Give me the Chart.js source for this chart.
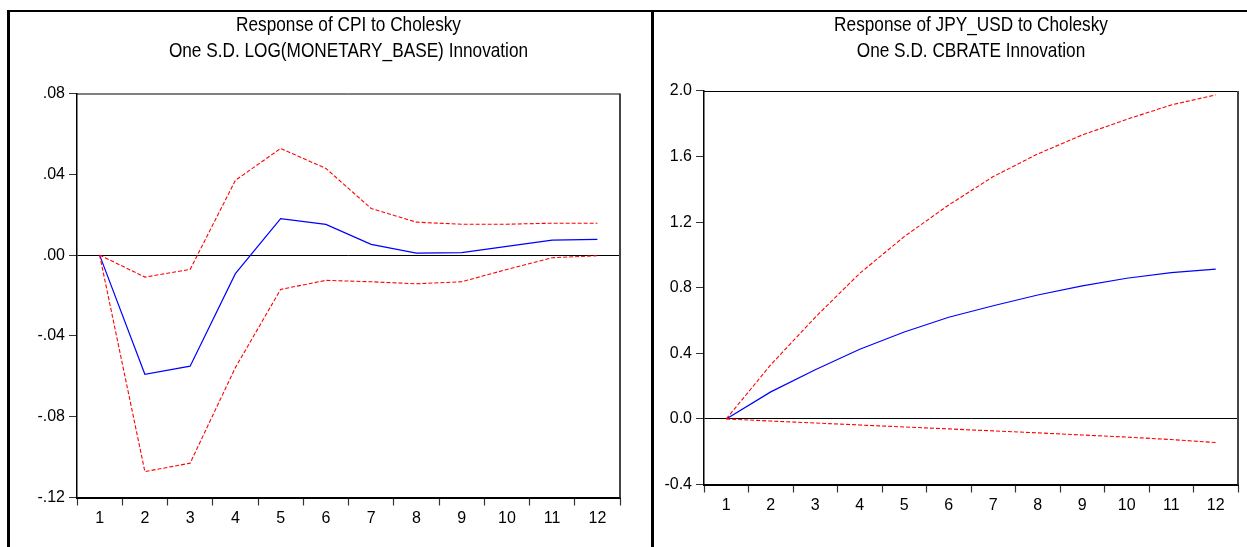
<!DOCTYPE html>
<html>
<head>
<meta charset="utf-8">
<script src="https://cdn.jsdelivr.net/npm/chart.js@4.4.1/dist/chart.umd.min.js"></script>
<style>
  html, body { margin: 0; padding: 0; background: #fff; }
  body { width: 1247px; height: 547px; position: relative; overflow: hidden; }
  .rule { position: absolute; background: #000; }
  canvas { position: absolute; }
  .title {
    position: absolute; top: 11px; text-align: center; color: #000;
    font-family: 'Liberation Sans', Arial, sans-serif; font-size: 21px; line-height: 26px;
    transform: scaleX(0.82); transform-origin: 50% 0; white-space: nowrap;
  }
</style>
</head>
<body>
<div class="rule" style="left:8px; top:10px; width:1239px; height:2px;"></div>
<div class="rule" style="left:7px; top:10px; width:3px; height:537px;"></div>
<div class="rule" style="left:651px; top:10px; width:3px; height:537px;"></div>
<canvas id="cpiChart" width="640" height="534" style="left:10px; top:13px;"></canvas>
<canvas id="jpyChart" width="593" height="534" style="left:654px; top:13px;"></canvas>
<div class="title" id="cpiTitleBox" style="left:77px; width:543px;"></div>
<div class="title" id="jpyTitleBox" style="left:704px; width:534px;"></div>
<script>
// Impulse-response periods
const periods = ['1', '2', '3', '4', '5', '6', '7', '8', '9', '10', '11', '12'];

// Response of CPI to a LOG(MONETARY_BASE) shock, with ±2 S.E. bands
const cpiResponse = [0, -0.059, -0.055, -0.0092, 0.018, 0.0152, 0.0053, 0.001, 0.0012, 0.0043, 0.0074, 0.0078];
const cpiUpper    = [0, -0.0109, -0.0071, 0.037, 0.0528, 0.0429, 0.0231, 0.0163, 0.0153, 0.0153, 0.0158, 0.0158];
const cpiLower    = [0, -0.1072, -0.103, -0.0557, -0.017, -0.0125, -0.0132, -0.0142, -0.0132, -0.0071, -0.0013, -0.0003];

// Response of JPY_USD to a CBRATE shock, with ±2 S.E. bands
const jpyResponse = [0, 0.165, 0.30, 0.425, 0.53, 0.62, 0.69, 0.756, 0.811, 0.858, 0.892, 0.913];
const jpyUpper    = [0, 0.33, 0.62, 0.888, 1.112, 1.305, 1.478, 1.616, 1.732, 1.827, 1.915, 1.976];
const jpyLower    = [0, -0.013, -0.025, -0.037, -0.049, -0.061, -0.073, -0.085, -0.098, -0.111, -0.126, -0.144];

// Y-axis ranges and tick steps
const cpiAxis = { min: -0.12, max: 0.08, step: 0.04 };
const jpyAxis = { min: -0.4, max: 2.0, step: 0.4 };

const cpiTitle = ['Response of CPI to Cholesky', 'One S.D. LOG(MONETARY_BASE) Innovation'];
const jpyTitle = ['Response of JPY_USD to Cholesky', 'One S.D. CBRATE Innovation'];

const FONT = "'Liberation Sans', Arial, sans-serif";

function setTitle(id, lines) {
  const el = document.getElementById(id);
  lines.forEach((t, i) => {
    if (i) el.appendChild(document.createElement('br'));
    el.appendChild(document.createTextNode(t));
  });
}
setTitle('cpiTitleBox', cpiTitle);
setTitle('jpyTitleBox', jpyTitle);

// Frame around the plotting area (top and right sides; axes supply the rest)
const plotFrame = {
  id: 'plotFrame',
  afterDraw(chart) {
    const { ctx, chartArea: a } = chart;
    ctx.save();
    ctx.strokeStyle = '#000';
    ctx.lineWidth = 1;
    ctx.beginPath();
    ctx.moveTo(a.left, a.top + 0.5);
    ctx.lineTo(a.right, a.top + 0.5);
    ctx.stroke();
    ctx.strokeStyle = '#444';
    ctx.lineWidth = 2;
    ctx.beginPath();
    ctx.moveTo(a.right, a.top);
    ctx.lineTo(a.right, a.bottom);
    ctx.stroke();
    ctx.restore();
  }
};

function makeChart(id, mid, up, lo, axis, fmt, box) {
  return new Chart(document.getElementById(id), {
    type: 'line',
    data: {
      labels: periods,
      datasets: [
        { data: up,  borderColor: '#ff0000', borderWidth: 1.1, borderDash: [4, 2], pointRadius: 0, tension: 0 },
        { data: lo,  borderColor: '#ff0000', borderWidth: 1.1, borderDash: [4, 2], pointRadius: 0, tension: 0 },
        { data: mid, borderColor: '#0000ff', borderWidth: 1.2, pointRadius: 0, tension: 0 }
      ]
    },
    options: {
      responsive: false,
      animation: false,
      devicePixelRatio: 1,
      layout: { padding: { left: 0, right: box.padRight, top: box.padTop, bottom: 0 } },
      plugins: {
        legend: { display: false },
        tooltip: { enabled: false },
        title: { display: false }
      },
      scales: {
        x: {
          type: 'category',
          offset: true,
          afterFit(s) { s.height = box.xHeight; },
          grid: { offset: true, drawOnChartArea: false, tickLength: 8, tickColor: '#333', tickWidth: 1.2 },
          border: { display: true, color: '#000', width: 2 },
          ticks: { color: '#000', padding: 3, maxRotation: 0, autoSkip: false, font: { family: FONT, size: 16 } }
        },
        y: {
          min: axis.min,
          max: axis.max,
          afterFit(s) { s.width = box.yWidth; },
          afterBuildTicks(s) {
            const t = [];
            const n = Math.round((axis.max - axis.min) / axis.step);
            for (let i = 0; i <= n; i++) t.push({ value: axis.min + i * axis.step });
            s.ticks = t;
          },
          grid: {
            drawOnChartArea: true,
            tickLength: 8,
            tickColor: '#333',
            lineWidth: 1,
            color: c => (c.tick && Math.abs(c.tick.value) < 1e-9) ? '#000' : 'rgba(0,0,0,0)'
          },
          border: { display: true, color: '#000', width: 1.5 },
          ticks: { color: '#000', padding: box.yPad, font: { family: FONT, size: 16 }, callback: fmt }
        }
      }
    },
    plugins: [plotFrame]
  });
}

// ".08", "-.04" style labels
const fmtCpi = v => {
  const s = (Math.abs(v) < 1e-9 ? 0 : v).toFixed(2);
  return s.replace(/^(-?)0\./, '$1.');
};
// "2.0", "-0.4" style labels
const fmtJpy = v => (Math.abs(v) < 1e-9 ? 0 : v).toFixed(1);

makeChart('cpiChart', cpiResponse, cpiUpper, cpiLower, cpiAxis, fmtCpi,
  { padRight: 30, padTop: 80.5, xHeight: 49.5, yWidth: 67, yPad: 4 });
makeChart('jpyChart', jpyResponse, jpyUpper, jpyLower, jpyAxis, fmtJpy,
  { padRight: 9, padTop: 78, xHeight: 62.5, yWidth: 50, yPad: 4 });
</script>
</body>
</html>
